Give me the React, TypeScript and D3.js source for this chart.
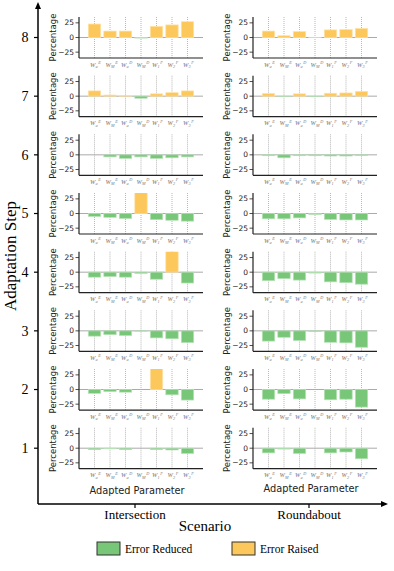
import { useEffect, useRef } from "react";
import * as d3 from "d3";

const steps = [8, 7, 6, 5, 4, 3, 2, 1];
const scenarios = ["Intersection", "Roundabout"];
const paramBase = ["a", "M", "a", "M", "1", "2", "3"];
const paramSup = ["E", "E", "D", "D", "F", "F", "F"];
const yTicks = [25, 0, -25];

// rows ordered step 8 -> step 1
const intersection = [
  [23, 11, 11, -1, 19, 21.5, 27],
  [9, 2, 0.5, -3.5, 4, 6, 9],
  [0, -3.5, -6, -3.5, -6, -5, -3.5],
  [-5, -6.5, -8.5, 45, -10.5, -11.5, -13],
  [-8.5, -7.5, -8.5, -2, -12, 45, -18.5],
  [-9, -6.5, -8, -0.5, -12, -13.5, -20],
  [-6.5, -3.5, -4.5, 0, 45, -9, -18],
  [-2.5, -1, -2.5, 0, -2.5, -3, -9],
];
const roundabout = [
  [11, 3, 10, 0.3, 13, 13.5, 15.5],
  [4.5, -0.5, 4, -0.5, 5, 5.5, 8],
  [-1.5, -5, -1.5, -1.5, -2, -2, -1],
  [-9, -9, -7.5, -1.5, -10, -11, -11],
  [-14.5, -11, -13.5, -1.5, -16.5, -18, -20.5],
  [-17.5, -11, -16.5, -1, -19.5, -20.5, -28],
  [-16.5, -7, -16, 0, -17.5, -16.5, -30],
  [-8, -1.5, -9, 0, -8, -6.5, -18],
];

const GREEN = "#78c678";
const ORANGE = "#fdc85b";
const serif = "'Liberation Serif', 'Times New Roman', serif";
const sans = "'DejaVu Sans', sans-serif";

const App = () => {
  const ref = useRef<SVGSVGElement>(null);

  useEffect(() => {
    const svg = d3.select(ref.current);
    svg.selectAll("*").remove();

    const colX = [79, 253];
    const panelW = 124;
    const panelH = 41;
    const rowBottom = d3.scaleLinear().domain([0, 7]).range([58, 468.7]);

    const x = d3.scaleLinear().domain([-1, 7]).range([0, panelW]);
    const y = d3.scaleLinear().domain([-35, 35]).range([panelH, 0]);

    const defs = svg.append("defs");
    defs
      .append("clipPath")
      .attr("id", "panelclip")
      .append("rect")
      .attr("x", 0)
      .attr("y", 0)
      .attr("width", panelW)
      .attr("height", panelH);

    [intersection, roundabout].forEach((data, c) => {
      data.forEach((vals, r) => {
        const g = svg
          .append("g")
          .attr("transform", `translate(${colX[c]},${rowBottom(r) - panelH})`);

        // dotted grid
        g.selectAll(".grid")
          .data(vals)
          .join("line")
          .attr("x1", (_, i) => x(i))
          .attr("x2", (_, i) => x(i))
          .attr("y1", 0)
          .attr("y2", panelH)
          .attr("stroke", "#9a9a9a")
          .attr("stroke-width", 0.7)
          .attr("stroke-dasharray", "1,1");

        g.append("line")
          .attr("x1", 0)
          .attr("x2", panelW)
          .attr("y1", y(0))
          .attr("y2", y(0))
          .attr("stroke", "#aaaaaa")
          .attr("stroke-width", 1);

        g.append("g")
          .attr("clip-path", "url(#panelclip)")
          .selectAll("rect")
          .data(vals)
          .join("rect")
          .attr("x", (_, i) => x(i - 0.4))
          .attr("width", x(0.8) - x(0))
          .attr("y", (d) => y(Math.max(d, 0)))
          .attr("height", (d) => Math.abs(y(d) - y(0)))
          .attr("fill", (d) => (d > 0 ? ORANGE : GREEN))
          .attr("stroke", (d) => (d > 0 ? "#ffe2a6" : "#b7e2b7"))
          .attr("stroke-width", 0.7);

        // spines
        g.append("line")
          .attr("x1", 0)
          .attr("x2", 0)
          .attr("y1", 0)
          .attr("y2", panelH)
          .attr("stroke", "#222")
          .attr("stroke-width", 1.2);
        g.append("line")
          .attr("x1", 0)
          .attr("x2", panelW)
          .attr("y1", panelH)
          .attr("y2", panelH)
          .attr("stroke", "#222")
          .attr("stroke-width", 1.2);

        const yt = g.selectAll(".yt").data(yTicks).join("g");
        yt.append("line")
          .attr("x1", -3.5)
          .attr("x2", 0)
          .attr("y1", (d) => y(d))
          .attr("y2", (d) => y(d))
          .attr("stroke", "#222")
          .attr("stroke-width", 0.8);
        yt.append("text")
          .attr("x", -5)
          .attr("y", (d) => y(d))
          .attr("dy", "0.35em")
          .attr("text-anchor", "end")
          .attr("font-family", sans)
          .attr("font-size", 7.5)
          .attr("fill", "#222")
          .text((d) => (d < 0 ? "\u2212" + Math.abs(d) : String(d)));

        g.append("text")
          .attr("transform", `translate(-23.5,${panelH / 2}) rotate(-90)`)
          .attr("text-anchor", "middle")
          .attr("font-family", sans)
          .attr("font-size", 8.5)
          .attr("fill", "#222")
          .text("Percentage");

        // parameter labels W_x^y
        const lab = g
          .selectAll(".xl")
          .data(paramBase)
          .join("text")
          .attr("x", (_, i) => x(i) - 4.5)
          .attr("y", panelH + 8.5)
          .attr("font-family", serif)
          .attr("font-style", "italic")
          .attr("font-size", 6.5)
          .attr("fill", "#777");
        lab.append("tspan").text("W");
        lab.append("tspan")
          .attr("font-size", 4.2)
          .attr("dy", 1.5)
          .text((d) => d);
        lab.append("tspan")
          .attr("font-size", 4.2)
          .attr("dx", 0.8)
          .attr("dy", -4)
          .text((_, i) => paramSup[i]);
      });

      svg.append("text")
        .attr("x", colX[c] + panelW / 2 - 4)
        .attr("y", c === 0 ? 494 : 492)
        .attr("text-anchor", "middle")
        .attr("font-family", sans)
        .attr("font-size", 9.8)
        .attr("fill", "#222")
        .text("Adapted Parameter");
    });

    // outer axes
    const ax = 38;
    const ay = 504;
    svg.append("line")
      .attr("x1", ax)
      .attr("x2", ax)
      .attr("y1", ay)
      .attr("y2", 8)
      .attr("stroke", "#000")
      .attr("stroke-width", 1.5);
    svg.append("path")
      .attr("d", `M${ax - 3},${9} L${ax},${2} L${ax + 3},${9} Z`)
      .attr("fill", "#000");
    svg.append("line")
      .attr("x1", ax)
      .attr("x2", 382)
      .attr("y1", ay)
      .attr("y2", ay)
      .attr("stroke", "#000")
      .attr("stroke-width", 1.5);
    svg.append("path")
      .attr("d", `M${381},${ay - 3} L${388},${ay} L${381},${ay + 3} Z`)
      .attr("fill", "#000");

    const st = svg.selectAll(".st").data(steps).join("g");
    st.append("line")
      .attr("x1", ax - 4)
      .attr("x2", ax)
      .attr("y1", (_, i) => rowBottom(i) - panelH / 2)
      .attr("y2", (_, i) => rowBottom(i) - panelH / 2)
      .attr("stroke", "#000")
      .attr("stroke-width", 1.2);
    st.append("text")
      .attr("x", 25)
      .attr("y", (_, i) => rowBottom(i) - panelH / 2)
      .attr("dy", "0.35em")
      .attr("text-anchor", "middle")
      .attr("font-family", serif)
      .attr("font-size", 14)
      .text((d) => d);

    svg.append("text")
      .attr("transform", "translate(16,256) rotate(-90)")
      .attr("text-anchor", "middle")
      .attr("font-family", serif)
      .attr("font-size", 17)
      .text("Adaptation Step");

    const scX = [135, 309];
    const sc = svg.selectAll(".sc").data(scenarios).join("g");
    sc.append("line")
      .attr("x1", (_, i) => scX[i])
      .attr("x2", (_, i) => scX[i])
      .attr("y1", ay)
      .attr("y2", ay + 4)
      .attr("stroke", "#000")
      .attr("stroke-width", 1.2);
    sc.append("text")
      .attr("x", (_, i) => scX[i])
      .attr("y", 519)
      .attr("text-anchor", "middle")
      .attr("font-family", serif)
      .attr("font-size", 13)
      .text((d) => d);

    svg.append("text")
      .attr("x", 205)
      .attr("y", 531)
      .attr("text-anchor", "middle")
      .attr("font-family", serif)
      .attr("font-size", 15)
      .text("Scenario");

    // legend
    const legend = [
      { label: "Error Reduced", color: GREEN, x: 97 },
      { label: "Error Raised", color: ORANGE, x: 232 },
    ];
    const lg = svg.selectAll(".lg").data(legend).join("g");
    lg.append("rect")
      .attr("x", (d) => d.x)
      .attr("y", 542)
      .attr("width", 23)
      .attr("height", 13)
      .attr("fill", (d) => d.color)
      .attr("stroke", "#333")
      .attr("stroke-width", 1);
    lg.append("text")
      .attr("x", (d) => d.x + 28)
      .attr("y", 553)
      .attr("font-family", serif)
      .attr("font-size", 11.5)
      .text((d) => d.label);
  }, []);

  return (
    <svg
      ref={ref}
      width={394}
      height={571}
      style={{ position: "absolute", left: 0, top: 0, background: "#fff" }}
    />
  );
};

export default App;
